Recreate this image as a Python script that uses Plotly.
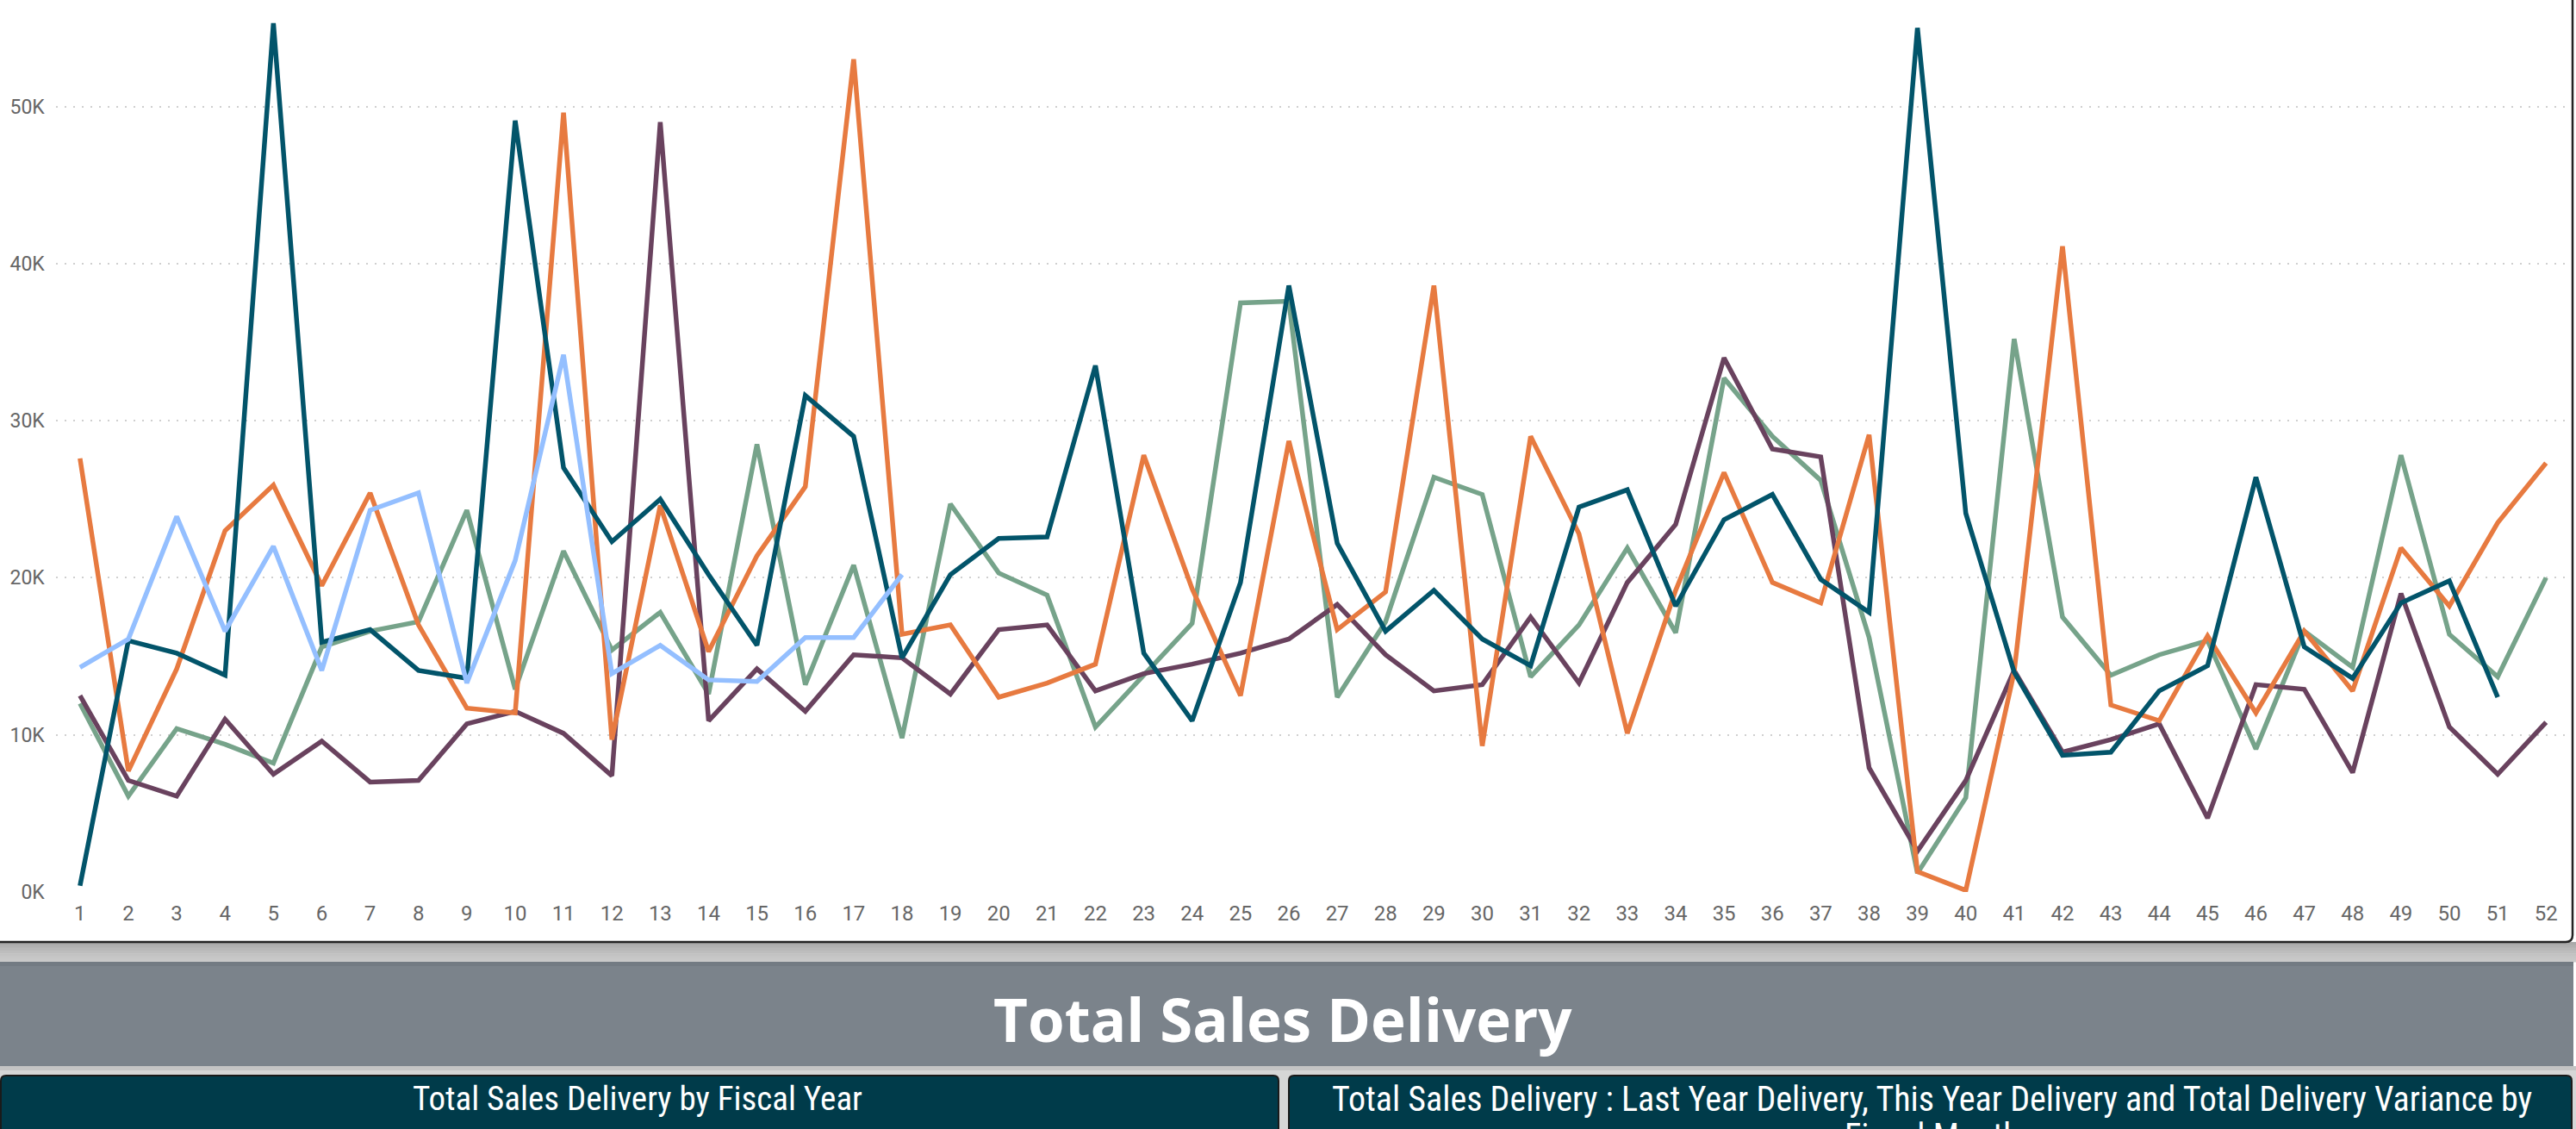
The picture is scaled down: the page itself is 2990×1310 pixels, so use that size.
import plotly.graph_objects as go

W, H = 2990, 1310

weeks = list(range(1, 53))

fy_a_purple = [12.5, 7.1, 6.1, 11.0, 7.5, 9.6, 7.0, 7.1, 10.7, 11.5, 10.1, 7.4, 49.0, 10.9, 14.2, 11.5,
               15.1, 14.9, 12.6, 16.7, 17.0, 12.8, 13.9, 14.5, 15.2, 16.1, 18.3, 15.1, 12.8, 13.2, 17.5, 13.3,
               19.7, 23.4, 34.0, 28.2, 27.7, 7.9, 2.6, 7.1, 14.1, 8.9, 9.7, 10.7, 4.7, 13.2, 12.9, 7.6,
               19.0, 10.5, 7.5, 10.8]
fy_b_green = [12.0, 6.1, 10.4, 9.4, 8.2, 15.6, 16.6, 17.2, 24.3, 12.9, 21.7, 15.4, 17.8, 12.6, 28.5, 13.2,
              20.8, 9.8, 24.7, 20.3, 18.9, 10.5, 13.8, 17.1, 37.5, 37.6, 12.4, 17.2, 26.4, 25.3, 13.7, 17.0,
              21.9, 16.5, 32.7, 29.0, 26.2, 16.2, 1.2, 6.0, 35.2, 17.5, 13.8, 15.1, 16.0, 9.1, 16.6, 14.3,
              27.8, 16.4, 13.7, 20.0]
fy_c_orange = [27.6, 7.7, 14.2, 23.0, 25.9, 19.5, 25.4, 17.0, 11.7, 11.4, 49.6, 9.7, 24.6, 15.3, 21.4, 25.8,
               53.0, 16.4, 17.0, 12.4, 13.3, 14.5, 27.8, 19.3, 12.5, 28.7, 16.7, 19.1, 38.6, 9.3, 29.0, 22.8,
               10.1, 19.2, 26.7, 19.7, 18.4, 29.1, 1.3, 0.1, 14.0, 41.1, 11.9, 10.9, 16.3, 11.4, 16.6, 12.8,
               21.9, 18.2, 23.5, 27.3]
fy_d_teal = [0.4, 16.0, 15.2, 13.8, 55.3, 15.9, 16.7, 14.1, 13.6, 49.1, 27.0, 22.3, 25.0, 20.2, 15.7, 31.6,
             29.0, 14.9, 20.2, 22.5, 22.6, 33.5, 15.2, 10.9, 19.7, 38.6, 22.2, 16.6, 19.2, 16.1, 14.4, 24.5,
             25.6, 18.2, 23.7, 25.3, 19.9, 17.8, 55.0, 24.1, 14.0, 8.7, 8.9, 12.8, 14.4, 26.4, 15.6, 13.6,
             18.4, 19.8, 12.4, None]
fy_e_blue = [14.3, 16.1, 23.9, 16.6, 22.0, 14.1, 24.3, 25.4, 13.3, 21.1, 34.2, 13.9, 15.7, 13.5, 13.4, 16.2,
             16.2, 20.2]

series = [
    ("FY2020", fy_b_green, "#76A38A"),
    ("FY2019", fy_a_purple, "#69425E"),
    ("FY2021", fy_c_orange, "#E77A40"),
    ("FY2022", fy_d_teal, "#02546A"),
    ("FY2023", fy_e_blue, "#94BFFF"),
]

y_ticks = [0, 10000, 20000, 30000, 40000, 50000]
y_tick_text = ["0K", "10K", "20K", "30K", "40K", "50K"]

fig = go.Figure()
for name, vals, col in series:
    fig.add_trace(go.Scatter(
        x=weeks[:len(vals)],
        y=[v * 1000 if v is not None else None for v in vals],
        mode="lines", name=name,
        line=dict(color=col, width=5.5),
        showlegend=False,
    ))

def px(x):
    return x / W

def py(y):
    return 1 - y / H

shapes = []
def rect(x0, y0, x1, y1, fill):
    shapes.append(dict(type="rect", xref="paper", yref="paper",
                       x0=px(x0), x1=px(x1), y0=py(y1), y1=py(y0),
                       fillcolor=fill, line=dict(width=0), layer="above"))

# gray gradient strip under chart
grad = ["#a9a9a9", "#b0b0b0", "#b7b7b7", "#bdbdbd", "#c2c2c2", "#c6c6c6", "#c9c9c9"]
y0 = 1093
step = (1116 - 1093) / len(grad)
for i, c in enumerate(grad):
    rect(-10, y0 + i * step, W + 10, y0 + (i + 1) * step + 0.6, c)
# banner
rect(-10, 1116, 2987, 1237, "#7b838b")
rect(-10, 1116, 2987, 1121, "#737b83")
# strip under banner
rect(-10, 1237, W + 10, 1320, "#d6d6d6")
rect(-10, 1237, W + 10, 1242, "#c4c4c4")

def rounded_box(x0, y0, x1, y1, r, fill):
    path = (f"M {px(x0)},{py(y1)} L {px(x0)},{py(y0 + r)} "
            f"Q {px(x0)},{py(y0)} {px(x0 + r)},{py(y0)} "
            f"L {px(x1 - r)},{py(y0)} Q {px(x1)},{py(y0)} {px(x1)},{py(y0 + r)} "
            f"L {px(x1)},{py(y1)} Z")
    shapes.append(dict(type="path", xref="paper", yref="paper", path=path,
                       fillcolor=fill, line=dict(color="#1a1a1a", width=2), layer="above"))

rounded_box(1, 1248, 1484, 1320, 6, "#003b4a")
rounded_box(1496, 1248, 2985, 1320, 6, "#003b4a")

# chart border (bottom + right, rounded corner)
r = 8
border = (f"M {px(0)},{py(1093)} L {px(2986 - r)},{py(1093)} "
          f"Q {px(2986)},{py(1093)} {px(2986)},{py(1093 - r)} L {px(2986)},{py(0)}")
shapes.append(dict(type="path", xref="paper", yref="paper", path=border,
                   line=dict(color="#222222", width=2.5), layer="above"))

sub_font = "Roboto Condensed, Liberation Sans Narrow, Arial Narrow, sans-serif"
annotations = [
    dict(text="<b>Total Sales Delivery</b>", x=px(1489), y=py(1182), xref="paper", yref="paper",
         showarrow=False, xanchor="center", yanchor="middle",
         font=dict(family="Open Sans, Noto Sans, sans-serif", size=69, color="white")),
    dict(text="Total Sales Delivery by Fiscal Year", x=px(740), y=py(1275), xref="paper", yref="paper",
         showarrow=False, xanchor="center", yanchor="middle",
         font=dict(family=sub_font, size=39, color="white")),
    dict(text="Total Sales Delivery : Last Year Delivery, This Year Delivery and Total Delivery Variance by",
         x=px(2242), y=py(1275), xref="paper", yref="paper",
         showarrow=False, xanchor="center", yanchor="middle",
         font=dict(family=sub_font, size=40, color="white")),
    dict(text="Fiscal Month",
         x=px(2242), y=py(1318), xref="paper", yref="paper",
         showarrow=False, xanchor="center", yanchor="middle",
         font=dict(family=sub_font, size=40, color="white")),
]

fig.update_layout(
    width=W, height=H,
    margin=dict(l=0, r=0, t=0, b=0, autoexpand=False),
    paper_bgcolor="white",
    plot_bgcolor="rgba(0,0,0,0)",
    shapes=shapes,
    annotations=annotations,
    xaxis=dict(
        domain=[px(64.8), px(2983.3)],
        range=[0.5, 52.5],
        automargin=False,
        tickmode="array", tickvals=weeks, ticktext=[str(w) for w in weeks],
        showgrid=False, zeroline=False, showline=False, ticks="",
        tickfont=dict(family="Roboto, Open Sans, sans-serif", size=24, color="#666666"),
        ticklabelstandoff=8,
    ),
    yaxis=dict(
        domain=[py(1035), 1],
        range=[0, 56775],
        automargin=False,
        tickmode="array", tickvals=y_ticks, ticktext=y_tick_text,
        showgrid=True, gridcolor="#cfcfcf", gridwidth=2, griddash="2px,8px",
        zeroline=False, showline=False, ticks="",
        tickfont=dict(family="Roboto, Open Sans, sans-serif", size=23, color="#666666"),
        ticklabelstandoff=12,
    ),
)

fig.write_html("out.html",
               config={"displayModeBar": False},
               post_script="document.body.style.margin='0';document.body.style.overflow='hidden';")
